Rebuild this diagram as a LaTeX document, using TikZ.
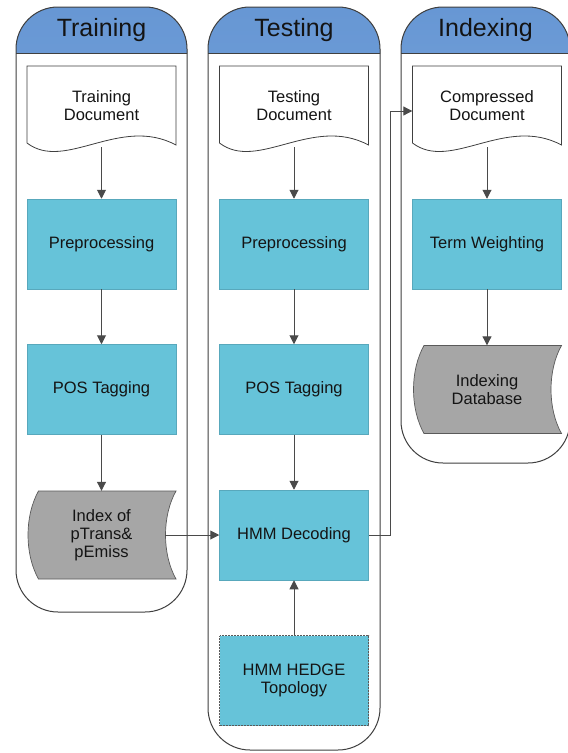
\documentclass[tikz,border=0pt]{standalone}
\usepackage{fontspec}
\setmainfont{Liberation Sans}
\usetikzlibrary{arrows.meta}

\definecolor{laneline}{HTML}{404040}
\definecolor{headtop}{HTML}{6797D4}
\definecolor{headbot}{HTML}{90B6E4}
\definecolor{procfill}{HTML}{66C3D9}
\definecolor{procline}{HTML}{58A8BC}
\definecolor{datafill}{HTML}{A6A6A6}
\definecolor{dataline}{HTML}{5A5A5A}
\definecolor{flow}{HTML}{4A4A4A}

\tikzset{
  lane/.style={draw=laneline, line width=1pt, rounded corners=42pt},
  title/.style={font=\fontsize{25}{28}\selectfont, text=black!92, inner sep=0pt},
  lbl/.style={font=\fontsize{16.5}{18}\selectfont, align=center, text=black!92, inner sep=0pt},
  proc/.style={lbl, draw=procline, line width=0.5pt, fill=procfill,
    minimum width=149pt, minimum height=90pt},
  hedge/.style={proc, draw=black!65, densely dotted, line width=0.7pt},
  holder/.style={lbl, minimum width=149pt, minimum height=80pt},
  store/.style={lbl, minimum width=149pt, minimum height=88pt},
  docshape/.style={fill=white, draw=laneline, line width=0.8pt},
  storeshape/.style={fill=datafill, draw=dataline, line width=0.7pt},
  flowline/.style={draw=flow, line width=1pt, -{Triangle[length=9pt,width=9pt]}}
}

% swimlane: left, right, bottom, title
\newcommand{\SwimLane}[4]{%
  \begin{scope}
    \clip (#1-2,5) rectangle (#2+2,53);
    \fill[top color=headtop, bottom color=headbot, rounded corners=42pt]
      (#1,7) rectangle (#2,#3);
  \end{scope}
  \draw[lane] (#1,7) rectangle (#2,#3);
  \draw[laneline, line width=1pt] (#1,53) -- (#2,53);
  \node[title] (#4) at ({(#1+#2)/2},30) {#4};
}

% document symbol with a wavy lower edge, centred on x = #1
\newcommand{\DocShape}[1]{%
  \draw[docshape] ({#1-74.5},66) -- ({#1+74.5},66) -- ({#1+74.5},145)
    .. controls ({#1+18.5},115) and ({#1-36.5},172) .. ({#1-74.5},143) -- cycle;
}

% stored-data symbol centred on (#1,#2)
\newcommand{\StoreShape}[2]{%
  \draw[storeshape] ({#1-63},{#2-44}) -- ({#1+74.5},{#2-44})
    .. controls ({#1+60.5},{#2-19}) and ({#1+60.5},{#2+19}) .. ({#1+74.5},{#2+44})
    -- ({#1-63},{#2+44})
    .. controls ({#1-77},{#2+19}) and ({#1-77},{#2-19}) .. cycle;
}

\begin{document}
\begin{tikzpicture}[x=1pt,y=-1pt]
\useasboundingbox (0,0) rectangle (568,753);
\fill[white] (0,0) rectangle (568,753);

% lanes
\SwimLane{16}{187}{612}{Training}
\SwimLane{208}{380}{750}{Testing}
\SwimLane{401}{570}{463}{Indexing}

% symbol outlines
\DocShape{101.5}
\DocShape{294}
\DocShape{487}
\StoreShape{101.5}{535}
\StoreShape{487}{389.5}

% Training lane
\node[holder] (tdoc) at (101.5,106) {Training\\Document};
\node[proc] (tpre) at (101.5,244) {Preprocessing};
\node[proc] (tpos) at (101.5,389.5) {POS Tagging};
\node[store] (tidx) at (101.5,535) {Index of\\pTrans\&\\pEmiss};

% Testing lane
\node[holder] (sdoc) at (294,106) {Testing\\Document};
\node[proc] (spre) at (294,244) {Preprocessing};
\node[proc] (spos) at (294,389.5) {POS Tagging};
\node[proc] (sdec) at (294,535) {HMM Decoding};
\node[hedge] (stop) at (294,680.5) {HMM HEDGE\\Topology};

% Indexing lane
\node[holder] (idoc) at (487,106) {Compressed\\Document};
\node[proc] (iwgt) at (487,244) {Term Weighting};
\node[store] (idb) at (487,389.5) {Indexing\\Database};

% connectors
\draw[flowline] ([yshift=-1pt]tdoc.south) -- (tpre.north);
\draw[flowline] (tpre.south) -- (tpos.north);
\draw[flowline] (tpos.south) -- (tidx.north);
\draw[flowline] ([xshift=-11pt]tidx.east) -- (sdec.west);

\draw[flowline] ([yshift=-1pt]sdoc.south) -- (spre.north);
\draw[flowline] (spre.south) -- (spos.north);
\draw[flowline] (spos.south) -- (sdec.north);
\draw[flowline] (stop.north) -- (sdec.south);
\draw[flowline] (sdec.east) -- ++(22,0) |- ([yshift=-5pt]idoc.west);

\draw[flowline] ([yshift=-1pt]idoc.south) -- (iwgt.north);
\draw[flowline] (iwgt.south) -- (idb.north);
\end{tikzpicture}
\end{document}
